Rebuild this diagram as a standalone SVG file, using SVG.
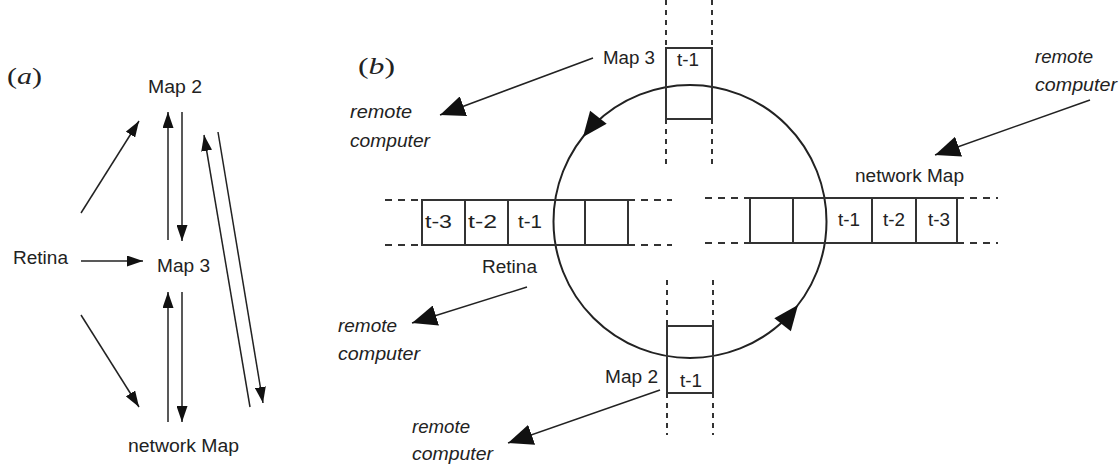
<svg xmlns="http://www.w3.org/2000/svg" xmlns:xlink="http://www.w3.org/1999/xlink" width="1120" height="466" viewBox="0 0 1120 466">
<style>
text{font-family:"Liberation Sans",Arial,sans-serif;font-size:17.5px;fill:#222}
.it{font-style:italic}
.lbl{font-family:"Liberation Serif","Times New Roman",serif;font-size:24px}
.ln{stroke:#222;stroke-width:1.5;fill:none}
.bx{stroke:#333;stroke-width:2;fill:none}
.dv{stroke:#333;stroke-width:2;fill:none;stroke-dasharray:5,5}
.dh{stroke:#333;stroke-width:2;fill:none;stroke-dasharray:7,6}
.sa{marker-end:url(#sh)}
.ba{marker-end:url(#bh)}
</style>
<defs>
<marker id="sh" markerUnits="userSpaceOnUse" markerWidth="17" markerHeight="11" refX="16" refY="5.5" orient="auto"><path d="M0,0 L16,5.5 L0,11 z" fill="#111"/></marker>
<marker id="bh" markerUnits="userSpaceOnUse" markerWidth="26" markerHeight="21" refX="25" refY="10.5" orient="auto"><path d="M0,0 L25,10.5 L0,21 z" fill="#111"/></marker>
<polygon id="ch" points="0,0 -25,-10.5 -25,10.5" fill="#111"/>
</defs>
<rect width="1120" height="466" fill="#fff"/>

<g id="panel-a-label"><text class="lbl" x="7" y="84" textLength="35" lengthAdjust="spacingAndGlyphs">(<tspan class="it">a</tspan>)</text></g>
<g id="a-map2"><text x="148" y="93" textLength="54" lengthAdjust="spacingAndGlyphs">Map 2</text></g>
<g id="a-retina"><text x="13" y="264" textLength="55" lengthAdjust="spacingAndGlyphs">Retina</text></g>
<g id="a-map3"><text x="157" y="272" textLength="53" lengthAdjust="spacingAndGlyphs">Map 3</text></g>
<g id="a-network"><text x="128" y="452" textLength="111" lengthAdjust="spacingAndGlyphs">network Map</text></g>

<g id="connectors-a">
<path class="ln sa" d="M81,213 L139,121"/>
<path class="ln sa" d="M168,240 L168,112"/>
<path class="ln sa" d="M182,112 L182,241"/>
<path class="ln sa" d="M250,407 L204,135"/>
<path class="ln sa" d="M218,132 L263,403"/>
<path class="ln sa" d="M81,261 L143,261"/>
<path class="ln sa" d="M81,315 L139,407"/>
<path class="ln sa" d="M168,422 L168,292"/>
<path class="ln sa" d="M182,292 L182,422"/>
</g>

<g id="panel-b-label"><text class="lbl" x="358" y="74" textLength="37" lengthAdjust="spacingAndGlyphs">(<tspan class="it">b</tspan>)</text></g>

<g id="ring">
<circle cx="690" cy="221.5" r="136.5" fill="none" stroke="#222" stroke-width="2"/>
<use xlink:href="#ch" transform="translate(583,137) rotate(128)"/>
<use xlink:href="#ch" transform="translate(798,305) rotate(-52)"/>
</g>

<g id="b-map3">
<path class="dv" d="M666,0 V48 M712,0 V48 M666,119 V165 M712,119 V165"/>
<rect class="bx" x="666" y="48" width="46" height="71"/>
<text x="677" y="66" textLength="22" lengthAdjust="spacingAndGlyphs">t-1</text>
<text x="603" y="64" textLength="52" lengthAdjust="spacingAndGlyphs">Map 3</text>
</g>

<g id="b-map2">
<path class="dv" d="M667,280 V326 M713,280 V326 M667,393 V435 M713,393 V435"/>
<rect class="bx" x="667" y="326" width="46" height="67"/>
<text x="680" y="387" textLength="22" lengthAdjust="spacingAndGlyphs">t-1</text>
<text x="605" y="383" textLength="53" lengthAdjust="spacingAndGlyphs">Map 2</text>
</g>

<g id="b-retina">
<path class="dh" d="M385,200 H422 M385,245 H422 M628,200 H672 M628,245 H672"/>
<rect class="bx" x="422" y="200" width="206" height="45"/>
<path class="bx" d="M465,200 V245 M508,200 V245 M585,200 V245"/>
<text x="425" y="228" textLength="27" lengthAdjust="spacingAndGlyphs">t-3</text>
<text x="468" y="228" textLength="29" lengthAdjust="spacingAndGlyphs">t-2</text>
<text x="518" y="228" textLength="24" lengthAdjust="spacingAndGlyphs">t-1</text>
<text x="482" y="273" textLength="55" lengthAdjust="spacingAndGlyphs">Retina</text>
</g>

<g id="b-network">
<path class="dh" d="M705,198 H750 M705,243 H750 M957,198 H998 M957,243 H998"/>
<rect class="bx" x="750" y="198" width="207" height="45"/>
<path class="bx" d="M793,198 V243 M872,198 V243 M916,198 V243"/>
<text x="838" y="226" textLength="22" lengthAdjust="spacingAndGlyphs">t-1</text>
<text x="883" y="226" textLength="22" lengthAdjust="spacingAndGlyphs">t-2</text>
<text x="928" y="226" textLength="22" lengthAdjust="spacingAndGlyphs">t-3</text>
<text x="855" y="182" textLength="109" lengthAdjust="spacingAndGlyphs">network Map</text>
</g>

<g id="remote-1"><text class="it" x="350" y="118" textLength="62" lengthAdjust="spacingAndGlyphs">remote</text><text class="it" x="350" y="147" textLength="80" lengthAdjust="spacingAndGlyphs">computer</text></g>
<g id="remote-2"><text class="it" x="1035" y="63" textLength="58" lengthAdjust="spacingAndGlyphs">remote</text><text class="it" x="1035" y="91" textLength="82" lengthAdjust="spacingAndGlyphs">computer</text></g>
<g id="remote-3"><text class="it" x="338" y="332" textLength="59" lengthAdjust="spacingAndGlyphs">remote</text><text class="it" x="338" y="360" textLength="82" lengthAdjust="spacingAndGlyphs">computer</text></g>
<g id="remote-4"><text class="it" x="412" y="433" textLength="58" lengthAdjust="spacingAndGlyphs">remote</text><text class="it" x="412" y="460" textLength="81" lengthAdjust="spacingAndGlyphs">computer</text></g>

<g id="connectors-b">
<path class="ln ba" d="M593,58 L440,115"/>
<path class="ln ba" d="M1090,100 L935,155"/>
<path class="ln ba" d="M527,287 L412,323"/>
<path class="ln ba" d="M660,390 L508,443"/>
</g>
</svg>
